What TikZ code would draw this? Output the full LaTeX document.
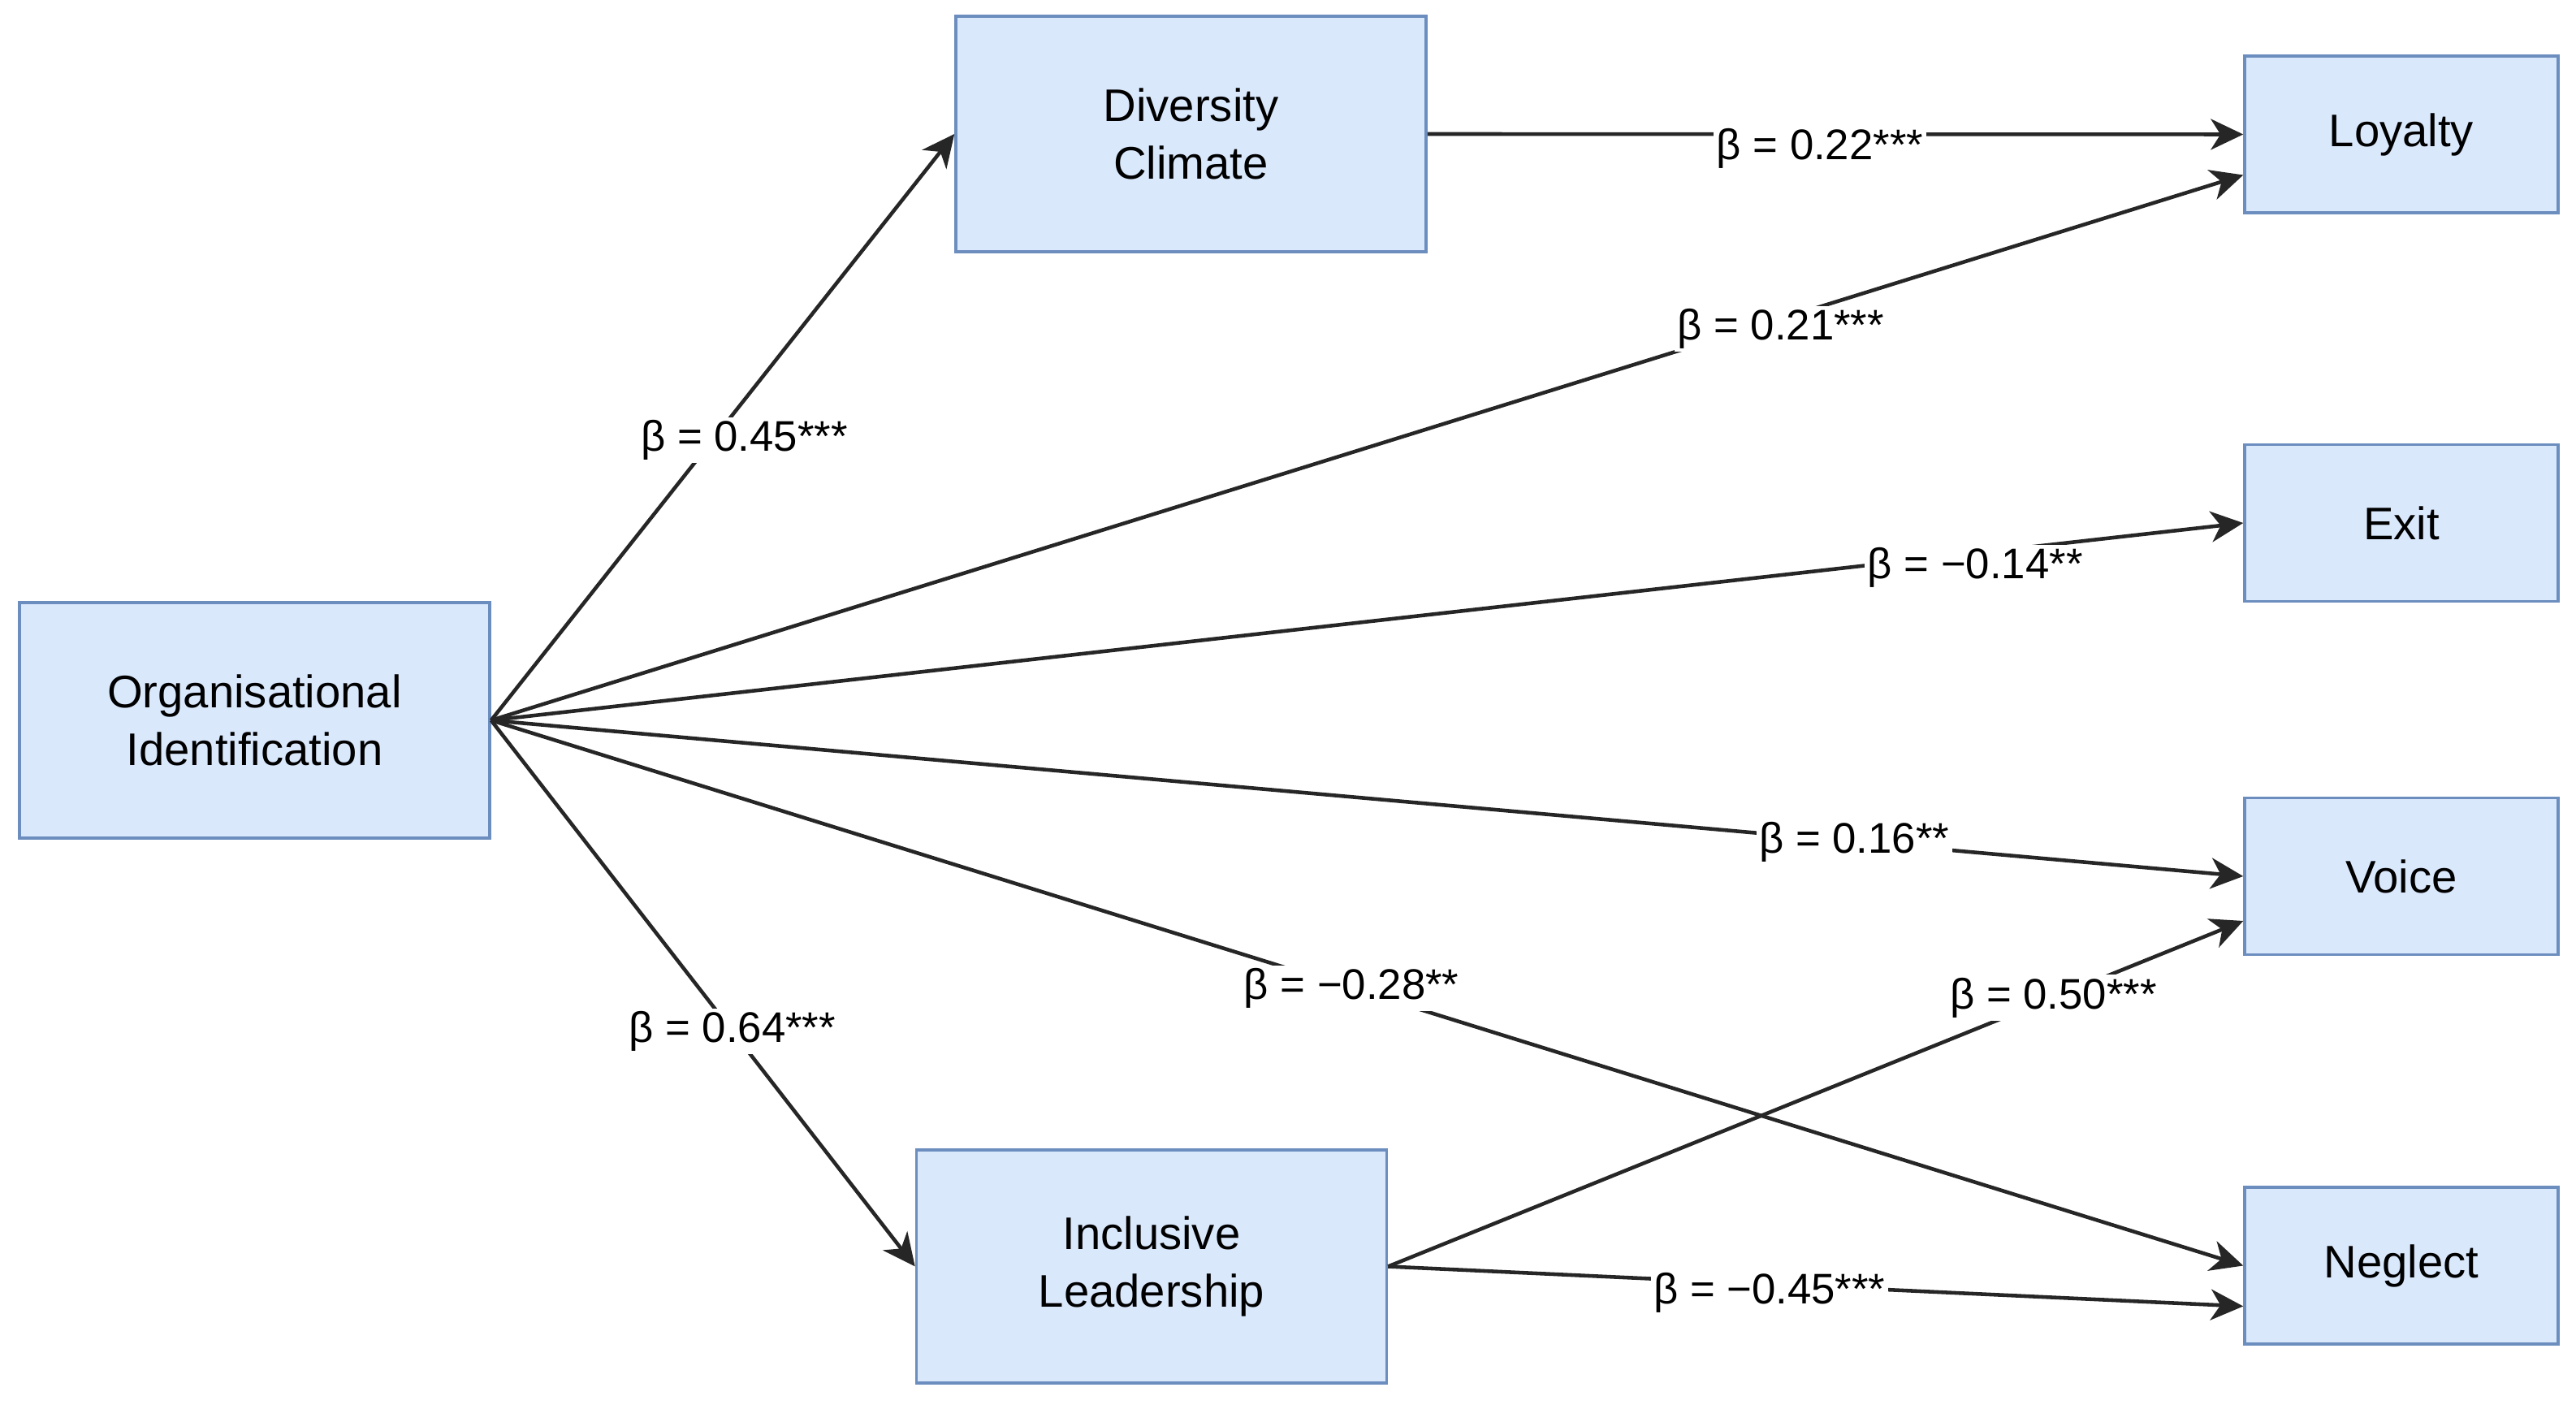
\documentclass[tikz,border=0pt]{standalone}
\usepackage{fontspec}
\setmainfont{Liberation Sans}
\usetikzlibrary{arrows.meta}
\begin{document}
\begin{tikzpicture}[
        >={Stealth[length=4mm,width=3.8mm,inset=1.2mm]},
        var/.style={draw=varline, fill=varfill, line width=1pt, align=center, font=\fontsize{16}{20}\selectfont},
        mediator/.style={var, minimum width=5.79cm, minimum height=2.9cm},
        outcome/.style={var, minimum width=3.86cm, minimum height=1.93cm},
        effect/.style={->, line width=1.3pt, draw=black!85},
        coef/.style={fill=white, inner sep=1pt, font=\fontsize{15}{18}\selectfont}]
        \definecolor{varfill}{HTML}{DAE8FC}
        \definecolor{varline}{HTML}{6C8EBF}
        \useasboundingbox (0,0) rectangle (31.72,17.34);
        % variables
        \node[mediator] (oi) at (3.135,8.47) {Organisational\\Identification};
        \node[mediator] (dc) at (14.665,15.69) {Diversity\\Climate};
        \node[mediator, minimum height=2.87cm] (il) at (14.18,1.745) {Inclusive\\Leadership};
        \foreach \name/\y/\txt in {loyalty/15.685/Loyalty, exit/10.90/Exit, voice/6.55/Voice, neglect/1.755/Neglect}
        \node[outcome] (\name) at (29.57,\y) {\txt};
        % paths
        \draw[effect] (oi.east) -- (dc.west) node[coef, pos=0.478, xshift=3.9mm] {β = 0.45***};
        \draw[effect] (oi.east) -- (il.west) node[coef, pos=0.569] {β = 0.64***};
        \draw[effect] (dc.east) -- (loyalty.west) node[coef, pos=0.481, yshift=-1.8mm] {β = 0.22***};
        \draw[effect] (oi.east) -- ([yshift=-5mm]loyalty.west) node[coef, pos=0.736, yshift=-1.2mm] {β = 0.21***};
        \draw[effect] (oi.east) -- (exit.west) node[coef, pos=0.847, yshift=-1.8mm] {β = −0.14**};
        \draw[effect] (oi.east) -- (voice.west) node[coef, pos=0.778] {β = 0.16**};
        \draw[effect] (oi.east) -- (neglect.west) node[coef, pos=0.491] {β = −0.28**};
        \draw[effect] (il.east) -- ([yshift=-5.5mm]voice.west) node[coef, pos=0.778] {β = 0.50***};
        \draw[effect] (il.east) -- ([yshift=-5mm]neglect.west) node[coef, pos=0.446, yshift=-1.1mm] {β = −0.45***};
    \end{tikzpicture}
\end{document}
